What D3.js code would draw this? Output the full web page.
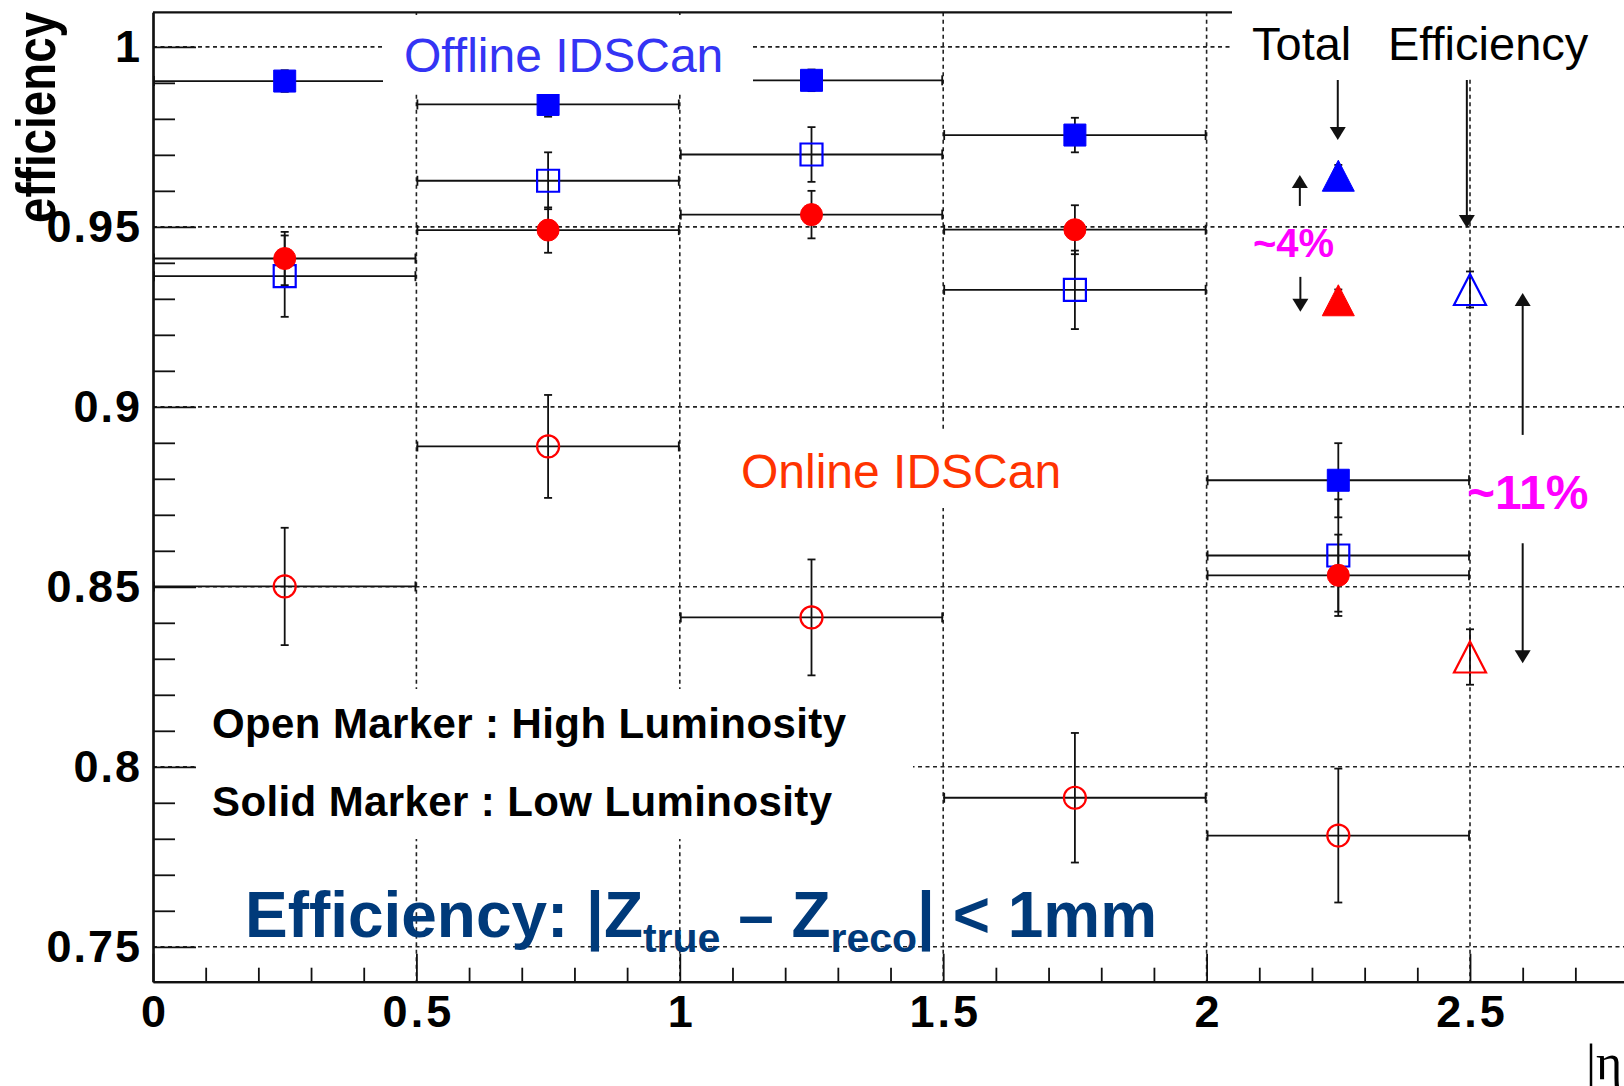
<!DOCTYPE html>
<html>
<head>
<meta charset="utf-8">
<script src="https://cdn.jsdelivr.net/npm/d3@7/dist/d3.min.js"></script>
<style>
body { margin: 0; background: #fff; }
svg { display: block; }
</style>
</head>
<body>
<div id="d3"></div>
<script>
// bins in |eta|
var binLo  = [0, 0.5, 1, 1.5, 2];
var binHi  = [0.5, 1, 1.5, 2, 2.5];
var binMid = [0.25, 0.75, 1.25, 1.75, 2.25];

// Offline IDSCan
var offLow      = [0.9905, 0.9840, 0.9907, 0.9755, 0.8796];
var offLowErr   = [0.0030, 0.0034, 0.0030, 0.0048, 0.0103];
var offHigh     = [0.9363, 0.9628, 0.9701, 0.9325, 0.8587];
var offHighErr  = [0.0113, 0.0079, 0.0076, 0.0109, 0.0156];
// Online IDSCan
var onLow       = [0.9412, 0.9491, 0.9534, 0.9492, 0.8532];
var onLowErr    = [0.0074, 0.0063, 0.0066, 0.0068, 0.0113];
var onHigh      = [0.8501, 0.8890, 0.8415, 0.7914, 0.7809];
var onHighErr   = [0.0163, 0.0143, 0.0161, 0.0180, 0.0186];

// total efficiency (low lumi at 2.25, high lumi at 2.5)
var totalX         = [2.25, 2.5];
var totalOff       = [0.9642, 0.9326];
var totalOffErr    = [0.003, 0.005];
var totalOn        = [0.9296, 0.8305];
var totalOnErr     = [0.003, 0.0077];

var yTicks      = [0.75, 0.8, 0.85, 0.9, 0.95, 1];
var yTickLabels = ["0.75", "0.8", "0.85", "0.9", "0.95", "1"];
var xTicks      = [0, 0.5, 1, 1.5, 2, 2.5];
var xTickLabels = ["0", "0.5", "1", "1.5", "2", "2.5"];

// annotation arrows, in data units
var arrowX  = [2.249, 2.494, 2.177, 2.178, 2.600, 2.600];
var arrowY0 = [0.9908, 0.9908, 0.9558, 0.9361, 0.8922, 0.8621];
var arrowY1 = [0.9741, 0.9497, 0.9644, 0.9264, 0.9316, 0.8288];

var W = 1624, H = 1086;
var FONT = "'Liberation Sans', Arial, Helvetica, sans-serif";

var svg = d3.select("#d3").append("svg")
        .attr("width", W)
        .attr("height", H)
        .style("font-family", FONT);

svg.append("rect").attr("width", W).attr("height", H).attr("fill", "white");

var x = d3.scaleLinear().domain([0, 3]).range([153, 1733.4]);
var y = d3.scaleLinear().domain([0.7403, 1.0096]).range([981.7, 12.3]);

// grid
svg.selectAll(".hgrid")
        .data(yTicks).enter()
        .append("line")
        .attr("class", "hgrid")
        .attr("x1", x(0))
        .attr("x2", x(3))
        .attr("y1", function(d) { return y(d); })
        .attr("y2", function(d) { return y(d); })
        .attr("stroke", "#222")
        .attr("stroke-width", 1.6)
        .attr("stroke-dasharray", "4,3.5");

svg.selectAll(".vgrid")
        .data(xTicks.slice(1)).enter()
        .append("line")
        .attr("class", "vgrid")
        .attr("x1", function(d) { return x(d); })
        .attr("x2", function(d) { return x(d); })
        .attr("y1", y(1.0096))
        .attr("y2", y(0.7403))
        .attr("stroke", "#222")
        .attr("stroke-width", 1.6)
        .attr("stroke-dasharray", "4,3.5");

// axes (ticks drawn inward, ROOT style)
var xMinor = d3.range(0, 30.5, 1).filter(function(d) { return d % 5 !== 0; }).map(function(d) { return d / 10; });
var yMinor = d3.range(74, 101, 1).filter(function(d) { return d % 5 !== 0; }).map(function(d) { return d / 100; })
        .filter(function(d) { return d > 0.7403; });

var gx = svg.append("g")
        .attr("class", "xaxis")
        .attr("transform", "translate(0," + y(0.7403) + ")")
        .call(d3.axisBottom(x)
            .tickValues(xTicks)
            .tickFormat(function(d, i) { return xTickLabels[i]; })
            .tickSizeInner(-28).tickSizeOuter(0).tickPadding(13));

svg.append("g")
        .attr("transform", "translate(0," + y(0.7403) + ")")
        .call(d3.axisBottom(x).tickValues(xMinor).tickFormat("").tickSizeInner(-14).tickSizeOuter(0));

var gy = svg.append("g")
        .attr("class", "yaxis")
        .attr("transform", "translate(" + x(0) + ",0)")
        .call(d3.axisLeft(y)
            .tickValues(yTicks)
            .tickFormat(function(d, i) { return yTickLabels[i]; })
            .tickSizeInner(-43).tickSizeOuter(0).tickPadding(11));

svg.append("g")
        .attr("transform", "translate(" + x(0) + ",0)")
        .call(d3.axisLeft(y).tickValues(yMinor).tickFormat("").tickSizeInner(-22).tickSizeOuter(0));

svg.selectAll(".domain").attr("stroke", "#111").attr("stroke-width", 2.2);
svg.selectAll(".tick line").attr("stroke", "#111").attr("stroke-width", 1.8);
svg.selectAll(".tick text")
        .attr("fill", "black")
        .attr("font-family", FONT)
        .attr("font-weight", "bold")
        .attr("font-size", "45px");
gy.selectAll(".tick text").attr("letter-spacing", "2px");
gx.selectAll(".tick text").attr("letter-spacing", "3px").attr("dx", "1.5px");

// top frame line
svg.append("line")
        .attr("x1", x(0)).attr("x2", x(3))
        .attr("y1", y(1.0096)).attr("y2", y(1.0096))
        .attr("stroke", "#111").attr("stroke-width", 2.2);

// markers
function markerPath(shape, cx, cy) {
    var p = d3.path();
    if (shape === "square") {
        p.rect(cx - 11, cy - 11, 22, 22);
    } else if (shape === "circle") {
        p.arc(cx, cy, 11, 0, 2 * Math.PI);
    } else {
        p.moveTo(cx, cy - 15.5);
        p.lineTo(cx + 16, cy + 15.5);
        p.lineTo(cx - 16, cy + 15.5);
        p.closePath();
    }
    return p.toString();
}

function drawSeries(xs, lo, hi, vals, errs, shape, color, filled) {
    var data = vals.map(function(v, i) {
        return {x: xs[i], lo: lo ? lo[i] : null, hi: hi ? hi[i] : null, v: v, e: errs[i]};
    });
    var g = svg.append("g")
            .attr("stroke", "#111")
            .attr("stroke-width", 1.8)
            .attr("fill", "none");

    var withX = data.filter(function(d) { return d.lo !== null; });
    g.selectAll(".xerr").data(withX).enter()
            .append("line")
            .attr("x1", function(d) { return x(d.lo); })
            .attr("x2", function(d) { return x(d.hi); })
            .attr("y1", function(d) { return y(d.v); })
            .attr("y2", function(d) { return y(d.v); });
    g.selectAll(".xcapL").data(withX).enter()
            .append("line")
            .attr("x1", function(d) { return x(d.lo) + 1; })
            .attr("x2", function(d) { return x(d.lo) + 1; })
            .attr("y1", function(d) { return y(d.v) - 5; })
            .attr("y2", function(d) { return y(d.v) + 5; });
    g.selectAll(".xcapR").data(withX).enter()
            .append("line")
            .attr("x1", function(d) { return x(d.hi) - 1; })
            .attr("x2", function(d) { return x(d.hi) - 1; })
            .attr("y1", function(d) { return y(d.v) - 5; })
            .attr("y2", function(d) { return y(d.v) + 5; });

    g.selectAll(".yerr").data(data).enter()
            .append("line")
            .attr("x1", function(d) { return x(d.x); })
            .attr("x2", function(d) { return x(d.x); })
            .attr("y1", function(d) { return y(d.v + d.e); })
            .attr("y2", function(d) { return y(d.v - d.e); });
    g.selectAll(".ycapT").data(data).enter()
            .append("line")
            .attr("x1", function(d) { return x(d.x) - 4; })
            .attr("x2", function(d) { return x(d.x) + 4; })
            .attr("y1", function(d) { return y(d.v + d.e); })
            .attr("y2", function(d) { return y(d.v + d.e); });
    g.selectAll(".ycapB").data(data).enter()
            .append("line")
            .attr("x1", function(d) { return x(d.x) - 4; })
            .attr("x2", function(d) { return x(d.x) + 4; })
            .attr("y1", function(d) { return y(d.v - d.e); })
            .attr("y2", function(d) { return y(d.v - d.e); });

    svg.append("g").selectAll("path").data(data).enter()
            .append("path")
            .attr("d", function(d) { return markerPath(shape, x(d.x), y(d.v)); })
            .attr("fill", filled ? color : "none")
            .attr("stroke", color)
            .attr("stroke-width", filled ? 1 : 2.2);
}

drawSeries(binMid, binLo, binHi, onHigh, onHighErr, "circle", "#ff0000", false);
drawSeries(binMid, binLo, binHi, offHigh, offHighErr, "square", "#0000ff", false);
drawSeries(binMid, binLo, binHi, onLow, onLowErr, "circle", "#ff0000", true);
drawSeries(binMid, binLo, binHi, offLow, offLowErr, "square", "#0000ff", true);

drawSeries([totalX[0]], null, null, [totalOff[0]], [totalOffErr[0]], "triangle", "#0000ff", true);
drawSeries([totalX[0]], null, null, [totalOn[0]], [totalOnErr[0]], "triangle", "#ff0000", true);
drawSeries([totalX[1]], null, null, [totalOff[1]], [totalOffErr[1]], "triangle", "#0000ff", false);
drawSeries([totalX[1]], null, null, [totalOn[1]], [totalOnErr[1]], "triangle", "#ff0000", false);

// white text boxes (they hide the grid behind the labels)
var boxes = [[383, 15, 370, 79], [730, 432, 340, 76], [197, 689, 716, 150], [1232, 0, 400, 78]];
svg.selectAll(".box").data(boxes).enter()
        .append("rect")
        .attr("x", function(d) { return d[0]; })
        .attr("y", function(d) { return d[1]; })
        .attr("width", function(d) { return d[2]; })
        .attr("height", function(d) { return d[3]; })
        .attr("fill", "white");

// arrows
var arrows = arrowX.map(function(v, i) { return {x: v, y0: arrowY0[i], y1: arrowY1[i]}; });
svg.selectAll(".arrline").data(arrows).enter()
        .append("line")
        .attr("x1", function(d) { return x(d.x); })
        .attr("x2", function(d) { return x(d.x); })
        .attr("y1", function(d) { return y(d.y0); })
        .attr("y2", function(d) { return y(d.y1) + (d.y1 > d.y0 ? 10 : -10); })
        .attr("stroke", "#111")
        .attr("stroke-width", 2);
svg.selectAll(".arrhead").data(arrows).enter()
        .append("path")
        .attr("d", function(d) {
            var tx = x(d.x), ty = y(d.y1), s = d.y1 > d.y0 ? 1 : -1;
            return "M" + tx + "," + ty + "L" + (tx - 8) + "," + (ty + s * 13) + "L" + (tx + 8) + "," + (ty + s * 13) + "Z";
        })
        .attr("fill", "#111");

// labels
svg.append("text")
        .attr("x", 404).attr("y", 72)
        .attr("font-size", "48px")
        .attr("fill", "#3434f4")
        .text("Offline IDSCan");

svg.append("text")
        .attr("x", 741).attr("y", 488)
        .attr("font-size", "48px")
        .attr("fill", "#ff3300")
        .text("Online IDSCan");

svg.append("text")
        .attr("x", 1252).attr("y", 60)
        .attr("font-size", "47px")
        .attr("fill", "black")
        .text("Total");
svg.append("text")
        .attr("x", 1388).attr("y", 60)
        .attr("font-size", "47px")
        .attr("fill", "black")
        .text("Efficiency");

svg.append("text")
        .attr("x", 1253).attr("y", 257)
        .attr("font-size", "40px")
        .attr("font-weight", "bold")
        .attr("fill", "#ff00ff")
        .text("~4%");

svg.append("text")
        .attr("x", 1467).attr("y", 509)
        .attr("font-size", "48px")
        .attr("font-weight", "bold")
        .attr("fill", "#ff00ff")
        .text("~11%");

svg.append("text")
        .attr("x", 212).attr("y", 738)
        .attr("font-size", "42px")
        .attr("font-weight", "bold")
        .attr("fill", "black")
        .attr("textLength", 634)
        .text("Open Marker : High Luminosity");

svg.append("text")
        .attr("x", 212).attr("y", 816)
        .attr("font-size", "42px")
        .attr("font-weight", "bold")
        .attr("fill", "black")
        .attr("textLength", 620)
        .text("Solid Marker : Low Luminosity");

var title = svg.append("text")
        .attr("x", 245).attr("y", 937)
        .attr("font-size", "64px")
        .attr("font-weight", "bold")
        .attr("fill", "#003a7a")
        .attr("textLength", 912)
        .attr("lengthAdjust", "spacingAndGlyphs");
title.append("tspan").text("Efficiency: |Z");
title.append("tspan").attr("font-size", "41px").attr("dy", 15).text("true");
title.append("tspan").attr("dy", -15).text(" \u2013 Z");
title.append("tspan").attr("font-size", "41px").attr("dy", 15).text("reco");
title.append("tspan").attr("dy", -15).text("| < 1mm");

// axis titles
svg.append("text")
        .attr("transform", "translate(55,12) rotate(-90)")
        .attr("text-anchor", "end")
        .attr("font-size", "56px")
        .attr("font-weight", "bold")
        .attr("fill", "black")
        .attr("textLength", 211)
        .attr("lengthAdjust", "spacingAndGlyphs")
        .text("efficiency");

svg.append("text")
        .attr("x", 1586).attr("y", 1079)
        .attr("font-family", "'Liberation Serif', 'Times New Roman', serif")
        .attr("font-size", "50px")
        .attr("fill", "black")
        .text("|\u03b7|");

d3.select("#d3").style("height", H + "px");
</script>
</body>
</html>
